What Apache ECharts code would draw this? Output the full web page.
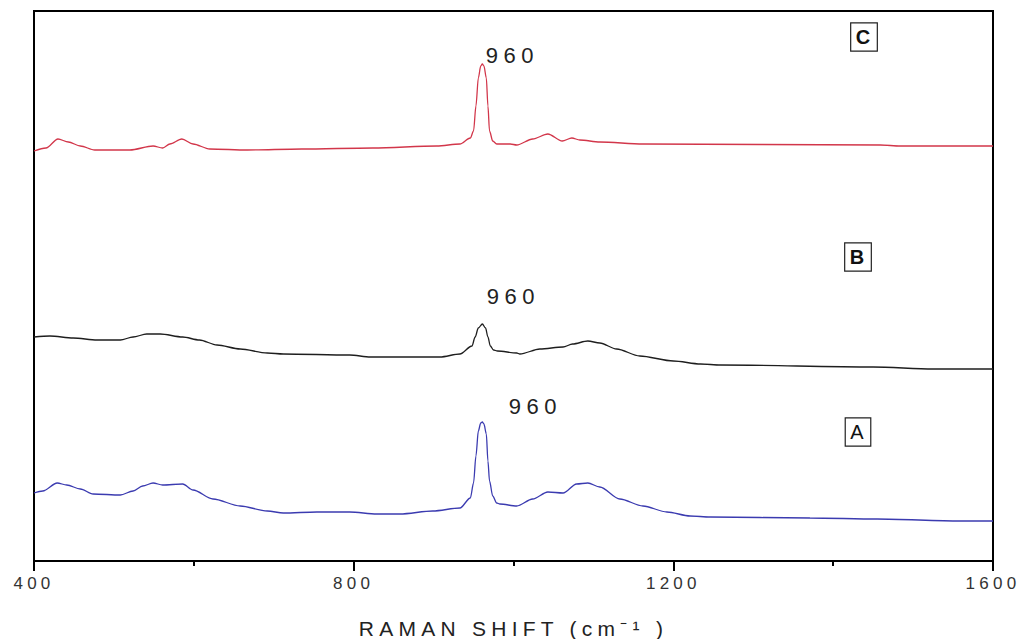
<!DOCTYPE html>
<html>
<head>
<meta charset="utf-8">
<title>Raman spectra</title>
<script src="https://cdn.jsdelivr.net/npm/echarts@6/dist/echarts.min.js"></script>
<style>
  html, body { margin: 0; padding: 0; background: #fff; }
  #chart { width: 1024px; height: 639px; }
  /* the original figure uses widely spaced lettering */
  #chart text { letter-spacing: 0.25em; }
</style>
</head>
<body>
<div id="chart"></div>
<script>
// spectrum A (blue, bottom)
var shiftA = [400, 411, 429, 441, 458, 474, 508, 524, 536, 549, 561, 586, 599, 624, 658, 692, 712, 754, 795, 829, 858, 899, 933,
	946, 950, 953, 956, 959, 961, 963, 966, 968, 970, 974, 979, 983,
	1004, 1024, 1043, 1062, 1079, 1093, 1108, 1133, 1162, 1192, 1221, 1246, 1371, 1455, 1559, 1600];
var intA = [68, 70, 78, 76, 72, 67, 66, 70, 75, 78, 76, 77, 71, 62, 55, 50, 48, 49, 49, 47, 47, 50, 53,
	63, 78, 105, 130, 138, 139, 137, 127, 100, 80, 65, 58, 57,
	55, 62, 69, 68, 77, 78, 74, 62, 55, 49, 45, 44, 43, 42, 40, 40];

// spectrum B (black, middle)
var shiftB = [400, 420, 449, 479, 508, 524, 541, 558, 586, 607, 629, 658, 692, 712, 795, 821, 908, 933,
	948, 952, 956, 961, 965, 968, 971, 975, 980,
	1004, 1008, 1033, 1062, 1074, 1093, 1108, 1129, 1158, 1200, 1234, 1259, 1450, 1525, 1600];
var intB = [224, 225, 223, 221, 221, 224, 227, 227, 224, 221, 216, 212, 208, 207, 206, 204, 204, 207,
	215, 224, 233, 237, 233, 224, 215, 211, 210,
	208, 207, 212, 214, 217, 220, 218, 212, 205, 200, 197, 196, 194, 192, 192];

// spectrum C (red, top)
var shiftC = [400, 415, 430, 443, 458, 476, 520, 549, 561, 570, 585, 599, 620, 667, 735, 824, 904, 933,
	946, 950, 953, 956, 959, 961, 963, 966, 968, 970, 974, 979,
	996, 1004, 1024, 1043, 1061, 1073, 1083, 1108, 1162, 1459, 1484, 1600];
var intC = [410, 413, 422, 419, 415, 411, 411, 415, 413, 417, 422, 417, 412, 411, 412, 413, 415, 417,
	423, 430, 455, 483, 495, 497, 495, 483, 455, 430, 420, 417,
	417, 416, 422, 427, 420, 423, 421, 419, 417, 416, 415, 415];

var peakLabel = '960';
var peakShift = 961;
var xTicks = [400, 800, 1200, 1600];

function pairs(xs, ys) {
	var out = [];
	for (var i = 0; i < xs.length; i++) {
		out.push([xs[i], ys[i]]);
	}
	return out;
}

function peakMark(y, off) {
	return {
		symbol: 'circle',
		symbolSize: 0,
		silent: true,
		label: {
			show: true,
			formatter: peakLabel,
			offset: off,
			color: '#222',
			fontSize: 22,
			fontFamily: 'Liberation Sans, Arial, sans-serif'
		},
		data: [{ coord: [peakShift, y] }]
	};
}

function boxLabel(txt, x, y, weight) {
	return {
		type: 'text',
		x: x,
		y: y,
		silent: true,
		style: {
			text: txt,
			fill: '#111',
			font: weight + ' 20px "Liberation Sans", Arial, sans-serif',
			align: 'center',
			verticalAlign: 'middle',
			borderColor: '#222',
			borderWidth: 1.2,
			padding: [4, 4, 3, 7],
			backgroundColor: '#fff'
		}
	};
}

var myChart = echarts.init(document.getElementById('chart'), null, { renderer: 'svg' });
var option = {
	animation: false,
	grid: {
		left: 34,
		right: 31,
		top: 11,
		bottom: 78,
		outerBoundsMode: 'none',
		containLabel: false,
		show: true,
		borderColor: '#000',
		borderWidth: 2
	},
	xAxis: {
		type: 'value',
		min: xTicks[0],
		max: xTicks[xTicks.length - 1],
		interval: 400,
		name: 'RAMAN SHIFT (cm\u207B\u00B9 )',
		nameLocation: 'middle',
		nameGap: 57,
		nameTextStyle: {
			color: '#222',
			fontSize: 21,
			fontFamily: 'Liberation Sans, Arial, sans-serif'
		},
		axisLine: { onZero: false, lineStyle: { color: '#000', width: 2 } },
		axisTick: { show: true, inside: false, length: 10, lineStyle: { color: '#000', width: 2 } },
		minorTick: { show: true, splitNumber: 2, length: 5, lineStyle: { color: '#000', width: 2 } },
		axisLabel: {
			margin: 14,
			color: '#333',
			fontSize: 17,
			fontFamily: 'Liberation Sans, Arial, sans-serif',
			formatter: function (v) { return String(v); }
		},
		splitLine: { show: false }
	},
	yAxis: {
		type: 'value',
		min: 0,
		max: 550,
		axisLine: { show: true, lineStyle: { color: '#000', width: 2 } },
		axisTick: { show: false },
		axisLabel: { show: false },
		splitLine: { show: false }
	},
	series: [
		{
			name: 'A',
			type: 'line',
			data: pairs(shiftA, intA),
			showSymbol: false,
			smooth: 0.3,
			smoothMonotone: 'x',
			lineStyle: { color: '#3b3bb0', width: 1.3 },
			markPoint: peakMark(139, [53, -16])
		},
		{
			name: 'B',
			type: 'line',
			data: pairs(shiftB, intB),
			showSymbol: false,
			smooth: 0.3,
			smoothMonotone: 'x',
			lineStyle: { color: '#1e1e1e', width: 1.3 },
			markPoint: peakMark(237, [31, -28])
		},
		{
			name: 'C',
			type: 'line',
			data: pairs(shiftC, intC),
			showSymbol: false,
			smooth: 0.3,
			smoothMonotone: 'x',
			lineStyle: { color: '#d2364a', width: 1.3 },
			markPoint: peakMark(497, [30, -9])
		}
	],
	graphic: [
		boxLabel('C', 864, 37, 'bold'),
		boxLabel('B', 858, 257, 'bold'),
		boxLabel('A', 858, 432, 'normal')
	]
};
myChart.setOption(option);
</script>
</body>
</html>
